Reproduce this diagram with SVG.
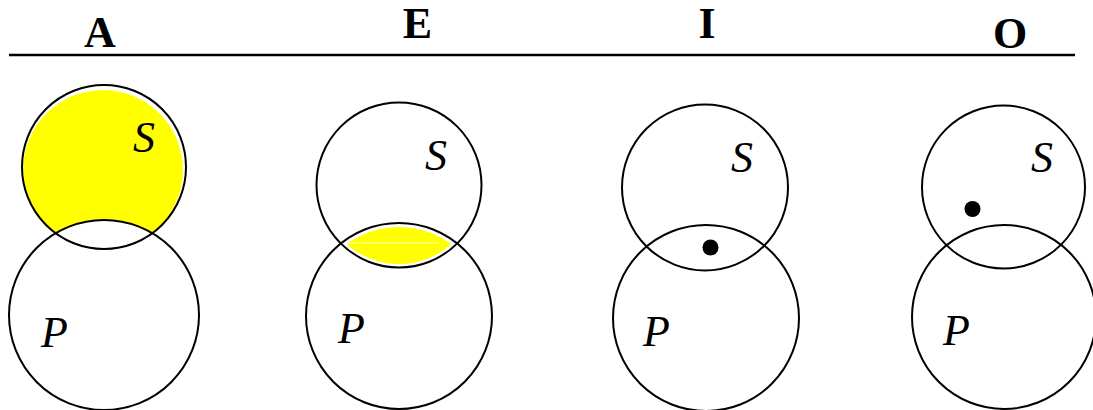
<svg xmlns="http://www.w3.org/2000/svg" width="1093" height="410" viewBox="0 0 1093 410">
<style>
.title{font-weight:bold;font-size:44px;text-anchor:middle;fill:#000}
.lbl{font-style:italic;font-size:44px;fill:#000}
.c{fill:none;stroke:#000;stroke-width:2}
.dot{fill:#000}
.y{fill:#ffff00}
</style>
<defs>
<clipPath id="clipPE"><circle cx="399" cy="316" r="89"/></clipPath>
</defs>
<rect width="1093" height="410" fill="#fff"/>
<g id="header" font-family="Liberation Serif, serif">
<text class="title" x="100" y="47">A</text>
<text class="title" x="417.5" y="38">E</text>
<text class="title" x="707" y="38">I</text>
<text class="title" x="1010" y="48">O</text>
<line x1="9" y1="55" x2="1075" y2="55" stroke="#000" stroke-width="2.5"/>
</g>
<g id="panelA" font-family="Liberation Serif, serif">
<circle class="y" cx="103" cy="170" r="80"/>
<circle cx="104" cy="315" r="95" fill="#fff"/>
<circle class="c" cx="104" cy="167" r="82"/>
<circle class="c" cx="104" cy="315" r="95"/>
<text class="lbl" x="133" y="152">S</text>
<text class="lbl" x="41" y="347">P</text>
</g>
<g id="panelE" font-family="Liberation Serif, serif">
<circle class="y" cx="399" cy="185" r="79" clip-path="url(#clipPE)"/>
<line x1="346" y1="243" x2="440" y2="243" stroke="#fff" stroke-width="1" opacity="0.7"/>
<circle class="c" cx="399" cy="185" r="82.5"/>
<circle class="c" cx="399" cy="316" r="93"/>
<text class="lbl" x="425" y="170">S</text>
<text class="lbl" x="338" y="343">P</text>
</g>
<g id="panelI" font-family="Liberation Serif, serif">
<circle class="c" cx="705" cy="187.5" r="83"/>
<circle class="c" cx="706" cy="318" r="93"/>
<circle class="dot" cx="710.5" cy="247.5" r="8"/>
<text class="lbl" x="731" y="172">S</text>
<text class="lbl" x="643" y="346">P</text>
</g>
<g id="panelO" font-family="Liberation Serif, serif">
<circle class="c" cx="1003.5" cy="187" r="81.5"/>
<circle class="c" cx="1004" cy="317" r="92"/>
<circle class="dot" cx="972.5" cy="209" r="8"/>
<text class="lbl" x="1031" y="172">S</text>
<text class="lbl" x="943" y="345">P</text>
</g>
</svg>
